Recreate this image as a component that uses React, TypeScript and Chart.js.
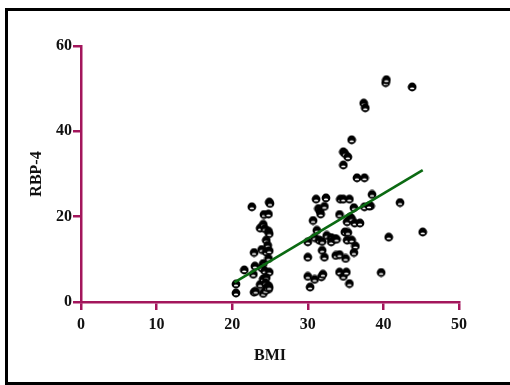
import React, { useEffect, useRef } from "react";
import { Chart, registerables } from "chart.js";

Chart.register(...registerables);

const bmi: number[] = [
  20.5, 20.5, 21.6, 22.6, 22.9, 23.0, 22.8, 22.9, 23.1, 23.7, 23.9, 23.7, 24.1, 24.3, 24.2, 24.8,
  24.9, 25.0, 24.8, 24.9, 24.5, 24.7, 24.5, 24.9, 24.8, 24.1, 23.9, 24.3, 24.9, 24.1, 24.5, 24.4,
  24.8, 24.8, 24.1, 24.4, 24.6, 24.9,
  30.0, 30.0, 30.0, 30.3, 30.7, 31.1, 30.9, 30.9, 31.2, 31.4, 31.6, 31.7, 31.5, 31.9, 31.9, 32.2,
  31.8, 32.0, 32.2, 32.4, 32.5, 33.1, 33.1, 33.6, 33.8, 33.7, 34.2, 34.2, 34.3, 34.7, 34.7, 34.9,
  34.7, 35.3, 35.8, 35.5, 34.9, 35.3, 35.0, 34.2, 34.7, 35.1, 35.5, 35.2, 35.6, 35.8, 36.1, 35.2,
  35.8, 36.3, 36.1, 36.2, 36.9, 36.5, 37.5, 37.4, 37.6, 37.5, 38.3, 38.5, 38.1,
  40.3, 40.4, 43.8, 39.7, 40.7, 42.2, 45.2,
];

const rbp4: number[] = [
  2.1, 4.2, 7.5, 22.3, 11.6, 8.4, 6.5, 2.3, 2.5, 17.3, 12.3, 4.1, 18.2, 17.2, 20.5, 20.6,
  23.4, 23.1, 16.6, 16.0, 14.5, 13.3, 11.7, 12.0, 10.2, 9.0, 8.0, 7.3, 7.0, 5.4, 5.7, 4.5,
  3.8, 3.0, 2.0, 2.7, 3.4, 3.4,
  14.1, 10.5, 6.0, 3.5, 19.1, 24.1, 15.1, 5.3, 16.8, 21.9, 21.3, 20.6, 14.5, 14.2, 12.1, 10.5,
  5.9, 6.5, 22.4, 24.4, 15.6, 15.1, 14.1, 14.8, 14.7, 10.9, 11.1, 20.5, 24.1, 24.1, 35.2, 34.8,
  32.1, 34.0, 38.0, 24.1, 16.4, 16.3, 10.2, 7.0, 6.0, 7.0, 4.3, 18.8, 19.9, 19.5, 22.1, 14.5,
  14.5, 13.1, 11.6, 18.5, 18.5, 29.1, 29.1, 46.6, 45.5, 22.3, 22.5, 25.2, 22.5,
  51.4, 52.1, 50.4, 6.9, 15.2, 23.3, 16.4,
];

const fitX: number[] = [20.3, 45.2];
const fitY: number[] = [4.6, 30.9];

const xTicks: number[] = [0, 10, 20, 30, 40, 50];
const yTicks: number[] = [0, 20, 40, 60];

const xTitle = "BMI";
const yTitle = "RBP-4";

const AXIS = "#a3165c";
const FONT = "'Liberation Serif', 'Times New Roman', serif";

function makePointImage(): HTMLCanvasElement {
  const c = document.createElement("canvas");
  c.width = 10;
  c.height = 10;
  const g = c.getContext("2d")!;
  g.fillStyle = "#000";
  g.beginPath();
  g.arc(5, 5, 4.4, 0, Math.PI * 2);
  g.fill();
  g.fillStyle = "#fff";
  g.beginPath();
  g.ellipse(5, 6.4, 2.1, 0.9, 0, 0, Math.PI * 2);
  g.fill();
  return c;
}

const framePlugin = {
  id: "frameAndTitles",
  beforeDraw(chart: any) {
    const ctx = chart.ctx;
    ctx.save();
    ctx.fillStyle = "#fff";
    ctx.fillRect(0, 0, chart.width, chart.height);
    ctx.fillStyle = "#000";
    ctx.fillRect(5, 8, 3, 377);
    ctx.fillRect(5, 8, 505, 3);
    ctx.fillRect(5, 382, 505, 3);
    ctx.restore();
  },
  afterDraw(chart: any) {
    const ctx = chart.ctx;
    const a = chart.chartArea;
    ctx.save();
    ctx.fillStyle = "#111";
    ctx.font = `bold 16px ${FONT}`;
    ctx.textAlign = "center";
    ctx.textBaseline = "middle";
    ctx.fillText(xTitle, (a.left + a.right) / 2, 356);
    ctx.translate(37, (a.top + a.bottom) / 2);
    ctx.rotate(-Math.PI / 2);
    ctx.fillText(yTitle, 0, 0);
    ctx.restore();
  },
};

export default function App() {
  const ref = useRef<HTMLCanvasElement | null>(null);
  useEffect(() => {
    if (!ref.current) return;
    const img = makePointImage();
    const chart = new Chart(ref.current, {
      type: "scatter",
      data: {
        datasets: [
          {
            type: "line",
            data: fitX.map((x, i) => ({ x, y: fitY[i] })),
            borderColor: "#0b6a12",
            borderWidth: 2.6,
            pointRadius: 0,
            fill: false,
            order: 0,
          } as any,
          {
            data: bmi.map((x, i) => ({ x, y: rbp4[i] })),
            pointStyle: img as any,
            pointRadius: 5,
            order: 1,
          },
        ],
      },
      options: {
        responsive: false,
        animation: false,
        events: [],
        layout: { padding: { left: 0, right: 51, top: 46, bottom: 0 } },
        plugins: { legend: { display: false }, tooltip: { enabled: false } },
        scales: {
          x: {
            type: "linear",
            min: 0,
            max: 50,
            afterBuildTicks: (s: any) => {
              s.ticks = xTicks.map((v) => ({ value: v }));
            },
            afterFit: (s: any) => {
              s.height = 83;
            },
            grid: {
              drawOnChartArea: false,
              drawTicks: true,
              tickLength: 8,
              color: AXIS,
              lineWidth: 2.5,
            },
            border: { color: AXIS, width: 2.5 },
            ticks: {
              color: "#111",
              padding: 5,
              font: { family: FONT, size: 16, weight: "bold" },
            },
          },
          y: {
            type: "linear",
            min: 0,
            max: 60,
            afterBuildTicks: (s: any) => {
              s.ticks = yTicks.map((v) => ({ value: v }));
            },
            afterFit: (s: any) => {
              s.width = 81;
            },
            grid: {
              drawOnChartArea: false,
              drawTicks: true,
              tickLength: 8,
              color: AXIS,
              lineWidth: 2.5,
            },
            border: { color: AXIS, width: 2.5 },
            ticks: {
              color: "#111",
              padding: 1,
              font: { family: FONT, size: 16, weight: "bold" },
            },
          },
        },
      },
      plugins: [framePlugin],
    });
    return () => chart.destroy();
  }, []);
  return (
    <canvas
      ref={ref}
      width={510}
      height={385}
      style={{ position: "fixed", left: 0, top: 0, width: 510, height: 385 }}
    />
  );
}
